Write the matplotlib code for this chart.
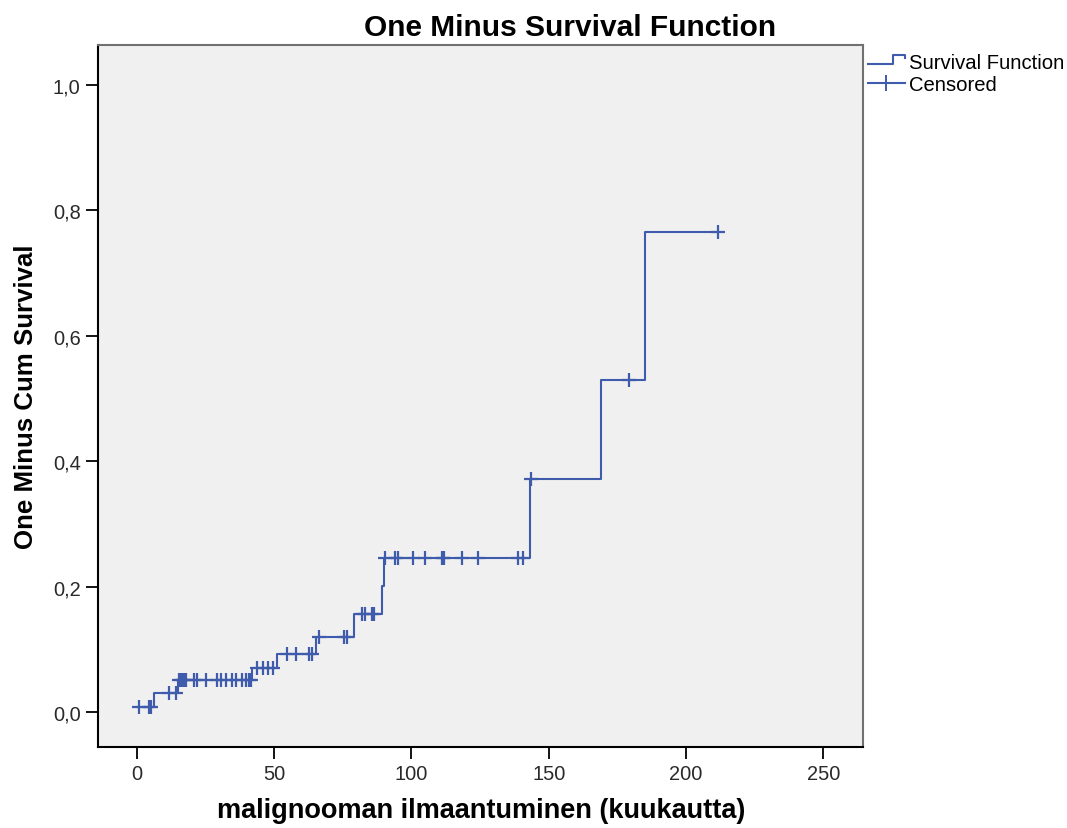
import numpy as np
import matplotlib.pyplot as plt
from matplotlib.lines import Line2D
from matplotlib.legend_handler import HandlerBase
from matplotlib.ticker import FuncFormatter

plt.rcParams['font.family'] = ['Liberation Sans', 'DejaVu Sans']

# --- datos: tiempos de evento y 1 - S(t) ---
event_times = [0, 6.3, 15.0, 41.9, 51.1, 65.4, 79.0, 89.3, 90.0, 143.2, 169.2, 185.2]
one_minus_surv = [0.008, 0.030, 0.051, 0.070, 0.092, 0.119, 0.156, 0.201, 0.245, 0.371, 0.529, 0.766]

# tiempos censurados
censored_times = [0.8, 4.5, 5.2,
                  11.6, 14.2,
                  15.4, 16.0, 16.6, 17.2, 17.8, 20.8, 22.0, 25.1, 29.3, 30.5, 32.3,
                  34.8, 36.0, 38.4, 39.6, 40.8, 41.6,
                  43.8, 46.0, 47.8, 49.6,
                  54.8, 57.8, 62.6, 63.8,
                  66.3, 75.3, 76.5,
                  82.0, 83.2, 85.6, 86.2,
                  90.2, 94.1, 95.0, 100.7, 105.0, 111.1, 111.7, 118.3, 124.4, 138.9, 140.7,
                  143.4, 179.3, 211.6]

x_ticks = [0, 50, 100, 150, 200, 250]
y_ticks = [0.0, 0.2, 0.4, 0.6, 0.8, 1.0]

BLUE = '#3f5bab'


class StepHandler(HandlerBase):
    # glifo de escalón para la leyenda
    def create_artists(self, legend, orig_handle, xdescent, ydescent,
                       width, height, fontsize, trans):
        x0, y0 = -xdescent, -ydescent
        xs = [x0, x0 + 0.69 * width, x0 + 0.69 * width, x0 + width, x0 + width]
        ys = [y0 + 0.25 * height, y0 + 0.25 * height, y0 + 0.95 * height,
              y0 + 0.95 * height, y0 + 0.7 * height]
        line = Line2D(xs, ys, color=orig_handle.get_color(),
                      lw=orig_handle.get_linewidth(), transform=trans)
        return [line]


fig = plt.figure(figsize=(10.67, 8.29), dpi=100)
ax = fig.add_axes([98 / 1067, 1 - 748 / 829, (863 - 98) / 1067, (748 - 46) / 829])
ax.set_facecolor('#f0f0f0')

# curva escalonada hasta el último censurado
xs = list(event_times) + [censored_times[-1]]
ys = list(one_minus_surv) + [one_minus_surv[-1]]
step_line, = ax.step(xs, ys, where='post', color=BLUE, lw=1.5)

# marcas de censura sobre la curva
idx = np.searchsorted(event_times, censored_times, side='right') - 1
cens_y = np.array(one_minus_surv)[idx]
cens_line, = ax.plot(censored_times, cens_y, linestyle='none', marker='+',
                     markersize=10.5, markeredgewidth=1.6, color=BLUE)

ax.set_xlim(-14.2, 264.5)
ax.set_ylim(-0.056, 1.064)
ax.set_xticks(x_ticks)
ax.set_yticks(y_ticks)
ax.yaxis.set_major_formatter(FuncFormatter(lambda v, p: f"{v:.1f}".replace('.', ',')))
ax.tick_params(direction='out', length=8.5, width=1.3, labelsize=14.4,
               colors='black', labelcolor='#2a2a2a', pad=4)

for s in ['left', 'bottom']:
    ax.spines[s].set_color('black')
    ax.spines[s].set_linewidth(1.5)
for s in ['top', 'right']:
    ax.spines[s].set_color('#707070')
    ax.spines[s].set_linewidth(1.5)

fig.text(570 / 1067, 1 - 28 / 829, 'One Minus Survival Function',
         ha='center', va='center', fontsize=21.5, fontweight='bold')
fig.text(481 / 1067, 1 - 811 / 829, 'malignooman ilmaantuminen (kuukautta)',
         ha='center', va='center', fontsize=19.5, fontweight='bold')
fig.text(26 / 1067, 1 - 397 / 829, 'One Minus Cum Survival',
         ha='center', va='center', rotation=90, fontsize=18.6, fontweight='bold')

leg_step = Line2D([], [], color=BLUE, lw=1.5)
leg_cens = Line2D([], [], color=BLUE, lw=1.5, marker='+', markersize=12,
                  markeredgewidth=1.4)
fig.legend([leg_step, leg_cens], ['Survival Function', 'Censored'],
           loc='upper left', bbox_to_anchor=(868 / 1067, 1 - 54 / 829),
           frameon=False, fontsize=14.6, handlelength=1.8, handletextpad=0.2,
           labelspacing=0.15, borderaxespad=0, borderpad=0, numpoints=1,
           handler_map={leg_step: StepHandler()})

fig.savefig('out.png', dpi=100)
